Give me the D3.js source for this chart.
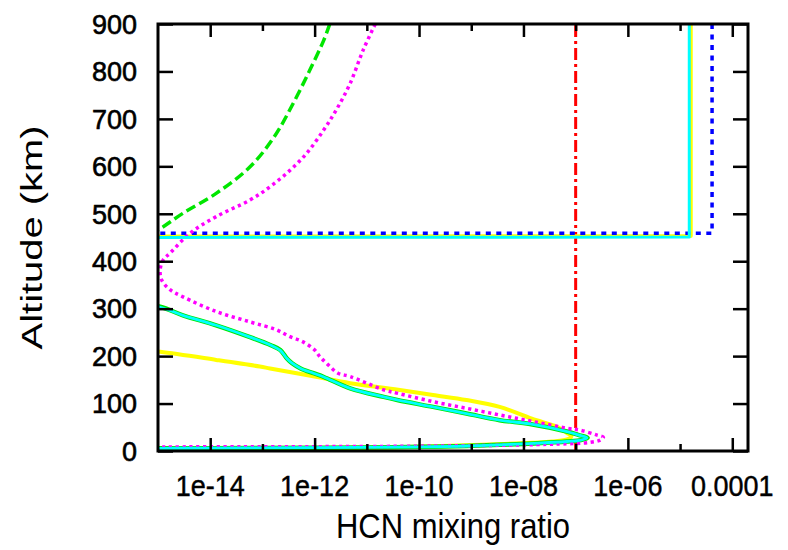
<!DOCTYPE html>
<html>
<head>
<meta charset="utf-8">
<script src="https://cdn.jsdelivr.net/npm/d3@7"></script>
<style>
  body { margin: 0; background: #fff; }
  text { font-family: "Liberation Sans", Arial, sans-serif; fill: #000; }
</style>
</head>
<body>
<svg id="chart" width="788" height="550"></svg>
<script>
// Axis ticks
const altTicks = [0, 100, 200, 300, 400, 500, 600, 700, 800, 900];
const ratioMajorTicks = [1e-14, 1e-12, 1e-10, 1e-8, 1e-6, 1e-4];
const ratioTickLabels = ["1e-14", "1e-12", "1e-10", "1e-08", "1e-06", "0.0001"];
const ratioMinorTicks = [1e-13, 1e-11, 1e-9, 1e-7, 1e-5];

// Reference level (constant mixing ratio)
const redAlt   = [0, 900];
const redRatio = [1e-7, 1e-7];

// Profile: green (upper branch dashed, lower branch solid)
const greenUpperAlt   = [900, 866, 803, 733, 663, 599, 543, 501, 466, 440];
const greenUpperRatio = [1.95e-12, 1.5e-12, 8.1e-13, 3.9e-13, 1.7e-13, 5.8e-14, 1.3e-14, 3.0e-15, 1.0e-15, 3.2e-16];
const greenLowerAlt   = [312, 304, 286, 265, 240, 223, 213, 195, 185, 174, 164, 156, 132, 114, 107, 93, 79, 65, 57, 41, 34, 28, 23, 20, 16, 13, 10.5, 9, 8, 7, 6, 5.5];
const greenLowerRatio = [3e-16, 1.1e-15, 3.0e-15, 1.3e-14, 5.8e-14, 1.45e-13, 2.2e-13, 2.95e-13, 3.7e-13, 5.4e-13, 9.5e-13, 1.5e-12, 4.8e-12, 2.1e-11, 4.0e-11, 1.85e-10, 8.1e-10, 3.5e-9, 1.33e-8, 6.8e-8, 1.12e-7, 1.7e-7, 1.26e-7, 6.8e-8, 1.6e-8, 3.5e-9, 8.1e-10, 1.85e-10, 3.2e-11, 1e-12, 1e-14, 3e-16];

// Profile: blue
const blueAlt   = [900, 459, 459];
const blueRatio = [4.1e-5, 4.1e-5, 1e-18];

// Profile: magenta
const magentaAlt   = [900, 845, 775, 719, 677, 628, 592, 557, 529, 494, 459, 417, 403, 382, 361, 340, 325, 294, 272, 256, 241, 230, 213, 199, 182, 164, 157, 129, 121, 104, 90, 76, 62, 48, 44, 34, 29, 23, 18, 15, 14, 12, 10.5, 9.5, 9, 8.5];
const magentaRatio = [1.45e-11, 8.5e-12, 4.8e-12, 2.6e-12, 1.5e-12, 7.1e-13, 3.4e-13, 1.4e-13, 5.8e-14, 1.3e-14, 4.1e-15, 1.7e-15, 1.26e-15, 1.1e-15, 1.17e-15, 1.7e-15, 3.0e-15, 1.3e-14, 5.8e-14, 1.8e-13, 3.4e-13, 6.0e-13, 1.0e-12, 1.26e-12, 1.8e-12, 2.8e-12, 4.8e-12, 2.1e-11, 4.1e-11, 1.85e-10, 8.1e-10, 3.5e-9, 1.55e-8, 6.8e-8, 1.2e-7, 2.5e-7, 3.4e-7, 2.95e-7, 1.86e-7, 5.8e-8, 2.75e-8, 3.2e-9, 2e-10, 1e-11, 1e-13, 3.2e-16];

// Profile: cyan (upper step and lower branch)
const cyanUpperAlt   = [900, 451, 450];
const cyanUpperRatio = [1.5e-5, 1.5e-5, 1e-18];
const cyanLowerAlt   = [312, 303, 286, 265, 240, 223, 212, 195, 185, 174, 164, 156, 132, 114, 107, 93, 79, 65, 57, 41, 34, 28, 23, 20, 16, 13, 10.5, 9, 8, 7, 6, 5.5];
const cyanLowerRatio = [3e-16, 1.1e-15, 3.0e-15, 1.3e-14, 5.8e-14, 1.45e-13, 2.2e-13, 2.95e-13, 3.7e-13, 5.4e-13, 9.5e-13, 1.5e-12, 4.8e-12, 2.1e-11, 4.0e-11, 1.85e-10, 8.1e-10, 3.5e-9, 1.33e-8, 6.8e-8, 1.12e-7, 1.65e-7, 1.26e-7, 6.8e-8, 1.6e-8, 3.5e-9, 8.1e-10, 1.85e-10, 3.2e-11, 1e-12, 1e-14, 3e-16];

// Profile: yellow (upper step and lower branch)
const yellowUpperAlt   = [900, 453, 452];
const yellowUpperRatio = [1.6e-5, 1.6e-5, 1e-18];
const yellowLowerAlt   = [215, 209, 192, 178, 174, 157, 143, 129, 118, 107.5, 93, 68, 51, 38, 31, 25, 20, 17.5, 14, 11, 8, 6, 4, 3, 2.5];
const yellowLowerRatio = [3.2e-16, 1.1e-15, 1.3e-14, 8.9e-14, 1.4e-13, 1e-12, 4.8e-12, 4.0e-11, 1.85e-10, 8.1e-10, 3.5e-9, 1.45e-8, 4.4e-8, 6.8e-8, 8.3e-8, 7.1e-8, 3.5e-8, 1.5e-8, 3.2e-9, 4e-10, 4e-11, 3.2e-12, 1e-13, 3.2e-15, 3.2e-16];

const svg = d3.select("#chart");
const plotLeft = 158, plotRight = 748, plotTop = 24, plotBottom = 451;

const x = d3.scaleLog().domain([1e-15, 2e-4]).range([plotLeft, plotRight]);
const y = d3.scaleLinear().domain([0, 900]).range([plotBottom, plotTop]);

svg.append("defs").append("clipPath").attr("id", "plotClip")
  .append("rect").attr("x", plotLeft).attr("y", plotTop)
  .attr("width", plotRight - plotLeft).attr("height", plotBottom - plotTop);

const stepLine = d3.line().x(d => x(d[0])).y(d => y(d[1]));
const smoothLine = d3.line().x(d => x(d[0])).y(d => y(d[1])).curve(d3.curveCatmullRom.alpha(0.5));
const pairs = (r, a) => r.map((v, i) => [v, a[i]]);

const plot = svg.append("g").attr("clip-path", "url(#plotClip)");

function drawSeries(ratios, alts, gen, color, width, dash) {
  plot.append("path")
    .datum(pairs(ratios, alts))
    .attr("d", gen)
    .attr("fill", "none")
    .attr("stroke", color)
    .attr("stroke-width", width)
    .attr("stroke-dasharray", dash || null)
    .attr("stroke-linejoin", "round");
}

drawSeries(redRatio, redAlt, stepLine, "#ff0000", 3, "12,4,3,4");
drawSeries(yellowUpperRatio, yellowUpperAlt, stepLine, "#ffff00", 4);
drawSeries(yellowLowerRatio, yellowLowerAlt, smoothLine, "#ffff00", 4);
drawSeries(greenLowerRatio, greenLowerAlt, smoothLine, "#00e600", 4.5);
drawSeries(greenUpperRatio, greenUpperAlt, smoothLine, "#00e600", 3.5, "10,4.5");
drawSeries(blueRatio, blueAlt, stepLine, "#0000ff", 3.5, "5,5.5");
drawSeries(magentaRatio, magentaAlt, smoothLine, "#ff00ff", 3.5, "3.2,3.6");
drawSeries(cyanUpperRatio, cyanUpperAlt, stepLine, "#00ffff", 3);
drawSeries(cyanLowerRatio, cyanLowerAlt, smoothLine, "#00ffff", 2.8);

// Frame and mirrored ticks
const axes = svg.append("g");
const yAxisL = d3.axisLeft(y).tickValues(altTicks).tickSize(-15).tickFormat("").tickSizeOuter(0);
const yAxisR = d3.axisRight(y).tickValues(altTicks).tickSize(-15).tickFormat("").tickSizeOuter(0);
const xMajB = d3.axisBottom(x).tickValues(ratioMajorTicks).tickSize(-13).tickFormat("").tickSizeOuter(0);
const xMajT = d3.axisTop(x).tickValues(ratioMajorTicks).tickSize(-13).tickFormat("").tickSizeOuter(0);
const xMinB = d3.axisBottom(x).tickValues(ratioMinorTicks).tickSize(-7).tickFormat("").tickSizeOuter(0);
const xMinT = d3.axisTop(x).tickValues(ratioMinorTicks).tickSize(-7).tickFormat("").tickSizeOuter(0);

axes.append("g").attr("transform", `translate(${plotLeft},0)`).call(yAxisL);
axes.append("g").attr("transform", `translate(${plotRight},0)`).call(yAxisR);
axes.append("g").attr("transform", `translate(0,${plotBottom})`).call(xMajB);
axes.append("g").attr("transform", `translate(0,${plotTop})`).call(xMajT);
axes.append("g").attr("transform", `translate(0,${plotBottom})`).call(xMinB);
axes.append("g").attr("transform", `translate(0,${plotTop})`).call(xMinT);
axes.selectAll(".domain").remove();
axes.selectAll(".tick line").attr("stroke", "#000").attr("stroke-width", 2.5);

svg.append("rect")
  .attr("x", plotLeft).attr("y", plotTop)
  .attr("width", plotRight - plotLeft).attr("height", plotBottom - plotTop)
  .attr("fill", "none").attr("stroke", "#000").attr("stroke-width", 3);

// Tick labels (slightly tall glyphs)
svg.append("g").selectAll("text").data(altTicks).join("text")
  .attr("transform", d => `translate(137,${y(d)}) scale(1,1.05)`)
  .attr("text-anchor", "end").attr("dominant-baseline", "central")
  .attr("font-size", 27).attr("stroke", "#000").attr("stroke-width", 0.6)
  .text(d => d);

svg.append("g").selectAll("text").data(ratioMajorTicks).join("text")
  .attr("transform", d => `translate(${x(d)},485) scale(1,1.12)`)
  .attr("text-anchor", "middle").attr("dominant-baseline", "central")
  .attr("font-size", 27).attr("stroke", "#000").attr("stroke-width", 0.4)
  .text((d, i) => ratioTickLabels[i]);

// Axis titles
svg.append("text")
  .attr("transform", `translate(${(plotLeft + plotRight) / 2},526) scale(1,1.12)`)
  .attr("text-anchor", "middle").attr("dominant-baseline", "central")
  .attr("font-size", 31)
  .text("HCN mixing ratio");

svg.append("text")
  .attr("transform", `translate(31,${(plotTop + plotBottom) / 2}) scale(1,1.33) rotate(-90)`)
  .attr("text-anchor", "middle").attr("dominant-baseline", "central")
  .attr("font-size", 30)
  .text("Altitude (km)");
</script>
</body>
</html>
